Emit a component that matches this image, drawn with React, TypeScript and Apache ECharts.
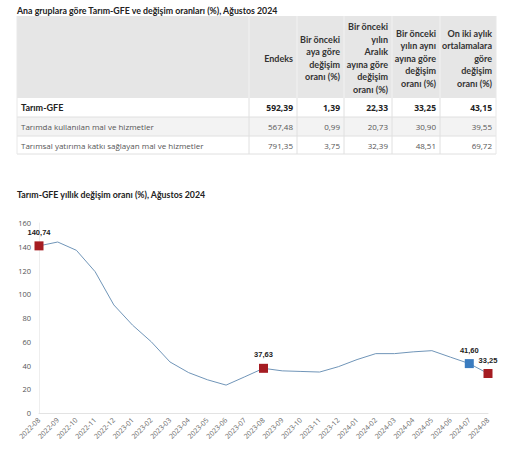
import React, { useEffect, useRef } from "react";
import * as echarts from "echarts";

const tableTitle = "Ana gruplara göre Tarım-GFE ve değişim oranları (%), Ağustos 2024";
const headers = [
  "",
  "Endeks",
  "Bir önceki\naya göre\ndeğişim\noranı (%)",
  "Bir önceki\nyılın\nAralık\nayına göre\ndeğişim\noranı (%)",
  "Bir önceki\nyılın aynı\nayına göre\ndeğişim\noranı (%)",
  "On iki aylık\nortalamalara\ngöre\ndeğişim\noranı (%)",
];
const rowLabels = [
  "Tarım-GFE",
  "Tarımda kullanılan mal ve hizmetler",
  "Tarımsal yatırıma katkı sağlayan mal ve hizmetler",
];
const rowValues = [
  ["592,39", "1,39", "22,33", "33,25", "43,15"],
  ["567,48", "0,99", "20,73", "30,90", "39,55"],
  ["791,35", "3,75", "32,39", "48,51", "69,72"],
];

const chartTitle = "Tarım-GFE yıllık değişim oranı (%), Ağustos 2024";
const categories = [
  "2022-08", "2022-09", "2022-10", "2022-11", "2022-12",
  "2023-01", "2023-02", "2023-03", "2023-04", "2023-05", "2023-06", "2023-07",
  "2023-08", "2023-09", "2023-10", "2023-11", "2023-12",
  "2024-01", "2024-02", "2024-03", "2024-04", "2024-05", "2024-06", "2024-07", "2024-08",
];
const values = [
  140.74, 144, 137, 119, 91,
  74, 60, 43, 34, 28, 23.5, 30.5,
  37.63, 35.5, 35, 34.5, 39,
  45, 50, 50, 51.5, 52.5, 47, 41.6, 33.25,
];
const markedIndex = [0, 12, 23, 24];
const markedColor = ["#a51c22", "#a51c22", "#3a7cc0", "#a51c22"];
const yTicks = { min: 0, max: 160, interval: 20 };

export default function App() {
  const ref = useRef<HTMLDivElement>(null);
  useEffect(() => {
    document.body.style.margin = "0";
    const chart = echarts.init(ref.current!, undefined, { renderer: "svg" });
    const font = "Lato, 'Open Sans', sans-serif";
    const bodyFont = "'Open Sans', 'Noto Sans', sans-serif";
    const colEdges = [17, 249, 297, 344, 392, 440, 496];
    const headTop = 16, headBot = 98;
    const rowEdges = [98, 117, 136, 154];
    const g: any[] = [];
    g.push({
      type: "text", x: 17, y: 10,
      style: { text: tableTitle, font: `bold 8.8px ${font}`, fill: "#222", verticalAlign: "middle" },
    });
    g.push({ type: "rect", shape: { x: colEdges[0], y: headTop, width: colEdges[6] - colEdges[0], height: headBot - headTop }, style: { fill: "#e6e6e6" } });
    g.push({ type: "rect", shape: { x: colEdges[0], y: rowEdges[1], width: colEdges[6] - colEdges[0], height: rowEdges[2] - rowEdges[1] }, style: { fill: "#f3f3f3" } });
    for (let c = 1; c < colEdges.length - 1; c++) {
      g.push({ type: "line", shape: { x1: colEdges[c], y1: headTop, x2: colEdges[c], y2: headBot }, style: { stroke: "#f2f2f2", lineWidth: 1 } });
      g.push({ type: "line", shape: { x1: colEdges[c], y1: headBot, x2: colEdges[c], y2: rowEdges[3] }, style: { stroke: "#e0e0e0", lineWidth: 1 } });
    }
    for (let r = 1; r < rowEdges.length; r++) {
      g.push({ type: "line", shape: { x1: colEdges[0], y1: rowEdges[r], x2: colEdges[6], y2: rowEdges[r] }, style: { stroke: "#e0e0e0", lineWidth: 1 } });
    }
    g.push({ type: "line", shape: { x1: colEdges[6], y1: headTop, x2: colEdges[6], y2: rowEdges[3] }, style: { stroke: "#e8e8e8", lineWidth: 1 } });
    g.push({ type: "line", shape: { x1: colEdges[0], y1: headTop, x2: colEdges[0], y2: rowEdges[3] }, style: { stroke: "#e8e8e8", lineWidth: 1 } });
    for (let c = 1; c < headers.length; c++) {
      g.push({
        type: "text", x: colEdges[c + 1] - 4, y: (headTop + headBot) / 2 + 1,
        style: { text: headers[c], font: `bold 9px ${font}`, fill: "#333", align: "right", verticalAlign: "middle", lineHeight: 12.5 },
      });
    }
    for (let r = 0; r < rowLabels.length; r++) {
      const cy = (rowEdges[r] + rowEdges[r + 1]) / 2;
      const bold = r === 0;
      const col = bold ? "#222" : "#555";
      const f = bold ? `bold 9px ${font}` : `8px ${bodyFont}`;
      const fv = bold ? `bold 8.5px ${bodyFont}` : `8px ${bodyFont}`;
      g.push({ type: "text", x: 21, y: cy, style: { text: rowLabels[r], font: f, fill: col, verticalAlign: "middle" } });
      for (let c = 0; c < rowValues[r].length; c++) {
        g.push({
          type: "text", x: colEdges[c + 2] - 4, y: cy,
          style: { text: rowValues[r][c], font: fv, fill: col, align: "right", verticalAlign: "middle" },
        });
      }
    }
    g.push({
      type: "text", x: 17, y: 194,
      style: { text: chartTitle, font: `bold 8.8px ${font}`, fill: "#222", verticalAlign: "middle" },
    });

    const data = values.map((v, i) => {
      const k = markedIndex.indexOf(i);
      if (k < 0) return v;
      return {
        value: v,
        symbol: "rect",
        symbolSize: 9,
        itemStyle: { color: markedColor[k] },
        label: {
          show: true,
          position: "top",
          distance: 5,
          formatter: (p: any) => Number(p.value).toFixed(2).replace(".", ","),
          fontSize: 7.5,
          fontWeight: "bold",
          color: "#222",
          fontFamily: "'Liberation Sans', Arial, sans-serif",
        },
      };
    });

    chart.setOption({
      animation: false,
      graphic: g,
      grid: { left: 39, right: 27, top: 223, bottom: 37, containLabel: false },
      xAxis: {
        type: "category",
        data: categories,
        boundaryGap: false,
        axisLine: { lineStyle: { color: "#e3e3e3" } },
        axisTick: { show: false },
        axisLabel: { rotate: 45, interval: 0, fontSize: 7, color: "#666", fontFamily: bodyFont, margin: 6 },
      },
      yAxis: {
        type: "value",
        min: yTicks.min,
        max: yTicks.max,
        interval: yTicks.interval,
        axisLine: { show: true, lineStyle: { color: "#eeeeee" } },
        axisTick: { show: false },
        splitLine: { show: false },
        axisLabel: { fontSize: 7.5, color: "#555", fontFamily: bodyFont, margin: 8 },
      },
      series: [
        {
          type: "line",
          data,
          symbol: "none",
          showAllSymbol: true,
          lineStyle: { color: "#7095b8", width: 1 },
          itemStyle: { color: "#7095b8" },
        },
      ],
    });
    return () => chart.dispose();
  }, []);
  return <div ref={ref} style={{ width: 515, height: 450 }} />;
}
